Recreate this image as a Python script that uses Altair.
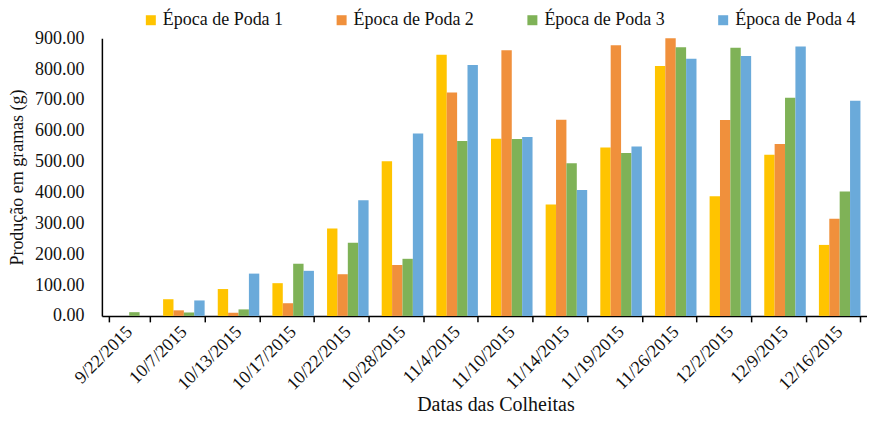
import altair as alt
import pandas as pd

dates = ["9/22/2015", "10/7/2015", "10/13/2015", "10/17/2015", "10/22/2015",
         "10/28/2015", "11/4/2015", "11/10/2015", "11/14/2015", "11/19/2015",
         "11/26/2015", "12/2/2015", "12/9/2015", "12/16/2015"]
series = ["Época de Poda 1", "Época de Poda 2", "Época de Poda 3", "Época de Poda 4"]
poda1 = [0, 54, 87, 106, 283, 501, 846, 574, 361, 546, 810, 388, 522, 230]
poda2 = [0, 18, 10, 41, 135, 165, 724, 861, 636, 877, 900, 635, 557, 315]
poda3 = [12, 11, 21, 169, 237, 185, 567, 573, 495, 528, 871, 869, 707, 403]
poda4 = [0, 50, 137, 146, 375, 591, 813, 580, 408, 549, 833, 842, 873, 697]
colors = ["#FFC400", "#F0903C", "#7FB257", "#6AAADA"]
y_ticks = [0, 100, 200, 300, 400, 500, 600, 700, 800, 900]

rows = []
for s, vals in zip(series, [poda1, poda2, poda3, poda4]):
    for d, v in zip(dates, vals):
        rows.append({"Data": d, "Serie": s, "Valor": v})
df = pd.DataFrame(rows)

FONT = "'Liberation Serif', 'Times New Roman', Tinos, 'DejaVu Serif', serif"
INK = "#111111"

chart = alt.Chart(df).mark_bar().encode(
    x=alt.X("Data:N", sort=dates,
            scale=alt.Scale(paddingInner=0.24, paddingOuter=0.12),
            axis=alt.Axis(title="Datas das Colheitas", labelAngle=-45,
                          labelAlign="right", labelBaseline="middle",
                          labelPadding=7, labelFontSize=18, labelFont=FONT,
                          tickBand="extent", tickSize=6, tickColor="#000000",
                          tickWidth=1.5, domainColor="#000000", domainWidth=1.5,
                          titleFont=FONT, titleFontSize=20, titleFontWeight="normal",
                          titlePadding=1, titleX=394,
                          labelColor=INK, titleColor=INK)),
    xOffset=alt.XOffset("Serie:N", sort=series,
                        scale=alt.Scale(paddingInner=0, paddingOuter=0)),
    y=alt.Y("Valor:Q",
            scale=alt.Scale(domain=[0, 900], nice=False),
            axis=alt.Axis(title="Produção em gramas (g)", format=".2f",
                          values=y_ticks, ticks=False, grid=False,
                          labelPadding=18, labelFontSize=18, labelFont=FONT,
                          domainColor="#000000", domainWidth=1.5,
                          titleFont=FONT, titleFontSize=18, titleFontWeight="normal",
                          titlePadding=8, labelColor=INK, titleColor=INK)),
    color=alt.Color("Serie:N", sort=series,
                    scale=alt.Scale(domain=series, range=colors),
                    legend=alt.Legend(title=None, orient="none", direction="horizontal",
                                      legendX=40, legendY=-27, padding=0,
                                      symbolType="square", symbolSize=100,
                                      symbolStrokeWidth=0, labelFontSize=18,
                                      labelFont=FONT,
                                      labelOffset=3, columnPadding=49,
                                      labelColor=INK)),
).properties(
    width=766, height=278,
    padding={"left": 0, "right": 0, "top": 3, "bottom": 0},
).configure(
    font=FONT,
).configure_view(
    stroke=None,
)

chart.save("out.html", embed_options={"renderer": "svg", "actions": False})
